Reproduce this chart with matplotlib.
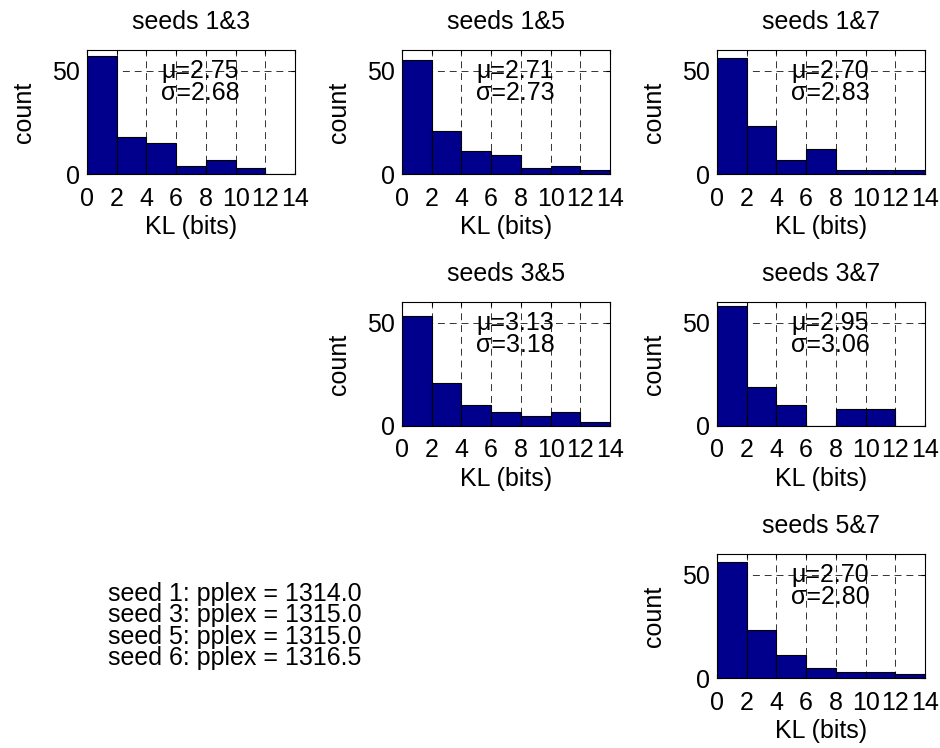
import numpy as np
import matplotlib.pyplot as plt

plt.rcParams['font.family'] = ['Liberation Sans', 'DejaVu Sans']
plt.rcParams['font.size'] = 18
plt.rcParams['axes.titlesize'] = 18
plt.rcParams['lines.scale_dashes'] = False

# histogram counts per pair of seeds (bins of width 2 from 0 to 14)
bin_edges = [0, 2, 4, 6, 8, 10, 12, 14]
pairs = ['1&3', '1&5', '1&7', '3&5', '3&7', '5&7']
counts_13 = [57, 18, 15, 4, 7, 3, 0]
counts_15 = [55, 21, 11, 9, 3, 4, 2]
counts_17 = [56, 23, 7, 12, 2, 2, 2]
counts_35 = [53, 21, 10, 7, 5, 7, 2]
counts_37 = [58, 19, 10, 0, 8, 8, 0]
counts_57 = [56, 23, 11, 5, 3, 3, 2]
means = [2.75, 2.71, 2.70, 3.13, 2.95, 2.70]
stds = [2.68, 2.73, 2.83, 3.18, 3.06, 2.80]
pplex_seeds = [1, 3, 5, 6]
pplex_values = [1314.0, 1315.0, 1315.0, 1316.5]

all_counts = [counts_13, counts_15, counts_17, counts_35, counts_37, counts_57]
# grid slot (row, col) of each panel
slots = [(0, 0), (0, 1), (0, 2), (1, 1), (1, 2), (2, 2)]

W, H = 940, 748
col_left = [87, 402, 717]
row_top = [50, 302, 554]
ax_w, ax_h = 208, 124

fig = plt.figure(figsize=(W / 100, H / 100), dpi=100)

for i in range(len(pairs)):
    r, c = slots[i]
    ax = fig.add_axes([col_left[c] / W, 1 - (row_top[r] + ax_h) / H, ax_w / W, ax_h / H])
    ax.set_axisbelow(True)
    left = np.array(bin_edges[:-1])
    ax.bar(left, all_counts[i], width=2, align='edge', color='#00008C',
           edgecolor='black', linewidth=0.8)
    ax.set_xlim(0, 14)
    ax.set_ylim(0, 60)
    ax.set_xticks(bin_edges)
    ax.set_yticks([0, 50])
    ax.grid(True, linestyle=(0, (5, 3.5)), color='#333333', linewidth=0.7)
    ax.tick_params(direction='in', top=True, right=True, length=3)
    ax.tick_params(axis='x', pad=9)
    ax.tick_params(axis='y', pad=5)
    ax.set_title('seeds ' + pairs[i], pad=15)
    ax.set_xlabel('KL (bits)', labelpad=3)
    ax.set_ylabel('count', labelpad=12)
    ax.text(0.545, 0.74, '\u03bc=%.2f\n\u03c3=%.2f' % (means[i], stds[i]),
            transform=ax.transAxes, ha='center', va='center', linespacing=0.88)

lines = ['seed %d: pplex = %.1f' % (s, v) for s, v in zip(pplex_seeds, pplex_values)]
fig.text(108 / W, 1 - 626 / H, '\n'.join(lines), ha='left', va='center',
         linespacing=0.85)

fig.savefig('out.png', dpi=100)
